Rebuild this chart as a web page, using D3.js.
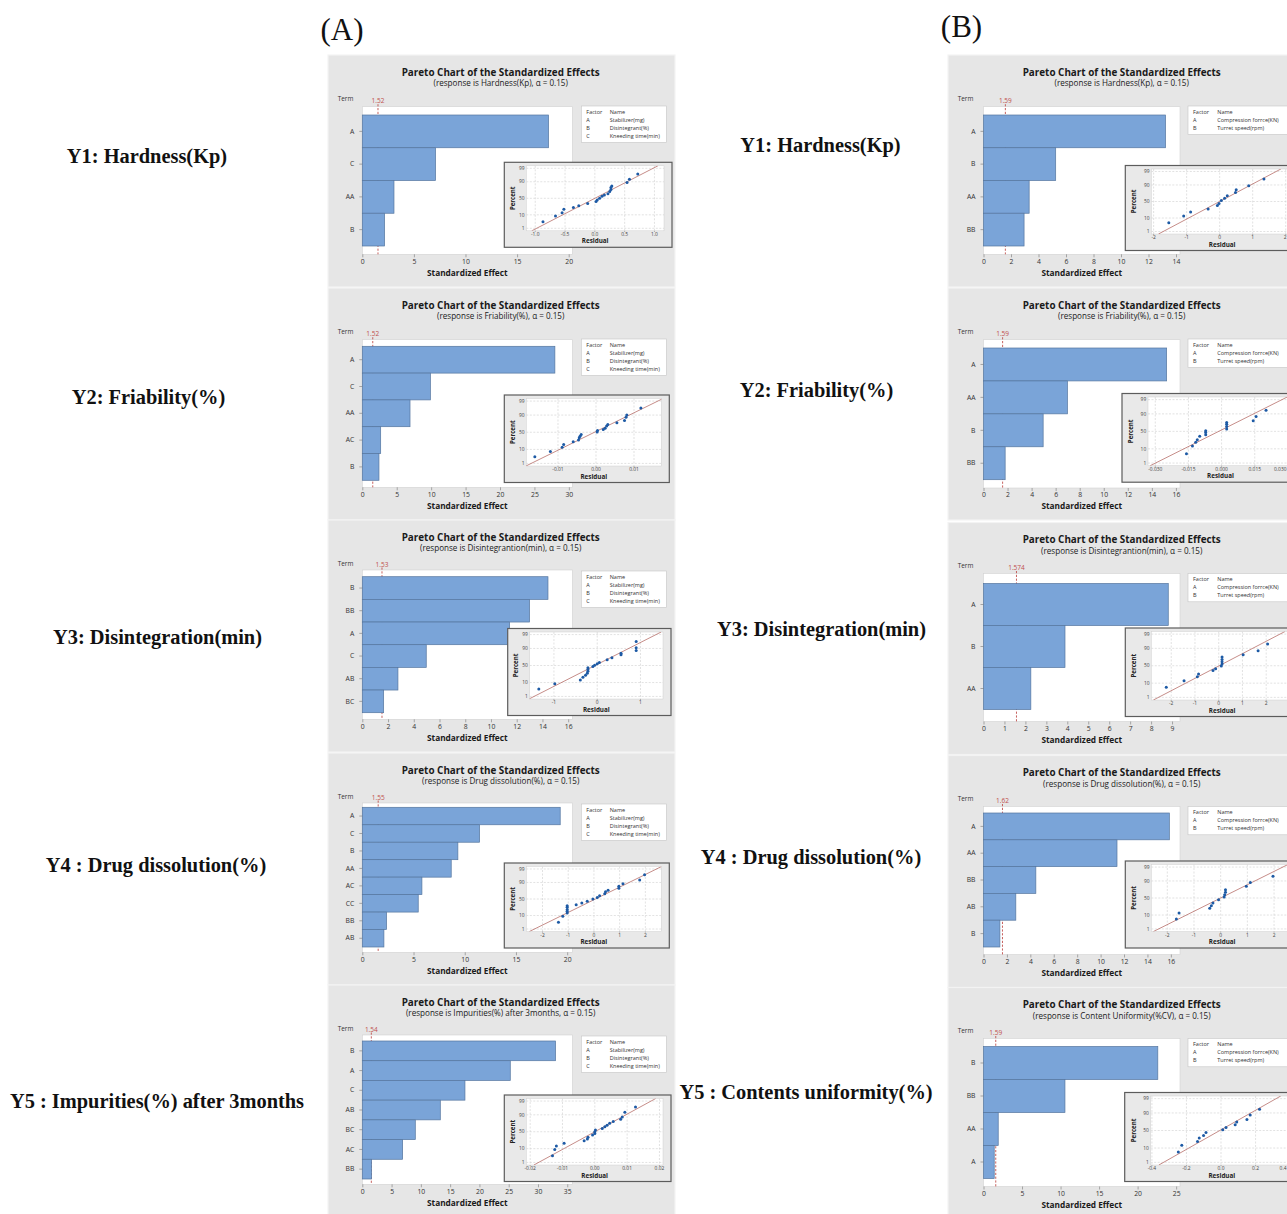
<!DOCTYPE html>
<html><head><meta charset="utf-8">
<script src="https://cdn.jsdelivr.net/npm/d3@7"></script>
<style>body{margin:0;background:#fff}</style>
</head><body>
<svg id="c" width="1287" height="1214"></svg>
<script>
// ---------------- DATA ----------------
const aFactors = ["A", "B", "C"];
const aNames = ["Stabilizer(mg)", "Disintegrant(%)", "Kneeding time(min)"];
const bFactors = ["A", "B"];
const bNames = ["Compression forrce(KN)", "Turret speed(rpm)"];
const pctTicks = [1, 10, 50, 90, 99];

const rowLabelsA = ["Y1: Hardness(Kp)", "Y2: Friability(%)", "Y3: Disintegration(min)", "Y4 : Drug dissolution(%)", "Y5 : Impurities(%) after 3months"];
const rowLabelsB = ["Y1: Hardness(Kp)", "Y2: Friability(%)", "Y3: Disintegration(min)", "Y4 : Drug dissolution(%)", "Y5 : Contents uniformity(%)"];

// A1
const a1Sub = "(response is Hardness(Kp), α = 0.15)";
const a1Terms = ["A", "C", "AA", "B"];
const a1Effects = [18.05, 7.10, 3.07, 2.16];
const a1Ref = 1.52;
const a1XTicks = [0, 5, 10, 15, 20];
const a1Resid = [-0.87, -0.66, -0.55, -0.52, -0.36, -0.27, -0.12, 0.02, 0.04, 0.08, 0.12, 0.16, 0.22, 0.25, 0.27, 0.27, 0.285, 0.54, 0.58, 0.72];
const a1Pct = [3.5, 8.5, 13, 20, 24, 28, 34, 40, 45, 50, 56, 60, 64, 70, 75, 80, 83, 89, 93, 97];
const a1Fit = [0, 0.42];
const a1RTicks = [-1, -0.5, 0, 0.5, 1];

// A2
const a2Sub = "(response is Friability(%), α = 0.15)";
const a2Terms = ["A", "C", "AA", "AC", "B"];
const a2Effects = [27.97, 9.89, 6.93, 2.67, 2.42];
const a2Ref = 1.52;
const a2XTicks = [0, 5, 10, 15, 20, 25, 30];
const a2Resid = [-0.0161, -0.0120, -0.0089, -0.0085, -0.0060, -0.0046, -0.0044, -0.0042, -0.0039, 0.0003, 0.0004, 0.0019, 0.0024, 0.0028, 0.0031, 0.0055, 0.0075, 0.0079, 0.0081, 0.0118];
const a2Pct = [3.4, 7.5, 13, 18, 24, 28, 34, 38, 43, 51, 55, 58, 62, 68, 72, 76, 81, 87, 90, 96.5];
const a2Fit = [-0.0004, 0.00716];
const a2RTicks = [-0.01, 0, 0.01];

// A3
const a3Sub = "(response is Disintegrantion(min), α = 0.15)";
const a3Terms = ["B", "BB", "A", "C", "AB", "BC"];
const a3Effects = [14.43, 13.0, 11.45, 4.97, 2.77, 1.66];
const a3Ref = 1.53;
const a3XTicks = [0, 2, 4, 6, 8, 10, 12, 14, 16];
const a3Resid = [-1.35, -0.98, -0.39, -0.33, -0.27, -0.23, -0.215, -0.215, -0.215, -0.10, -0.06, 0.0, 0.05, 0.23, 0.34, 0.55, 0.55, 0.90, 0.90, 0.90];
const a3Pct = [3.8, 8.4, 13.6, 19, 23, 28, 33, 38, 43, 47, 51, 55, 59, 67, 72, 79, 82, 87, 91, 96.4];
const a3Fit = [-0.05, 0.606];
const a3RTicks = [-1, 0, 1];

// A4
const a4Sub = "(response is Drug dissolution(%), α = 0.15)";
const a4Terms = ["A", "C", "B", "AA", "AC", "CC", "BB", "AB"];
const a4Effects = [19.32, 11.45, 9.33, 8.68, 5.82, 5.46, 2.37, 2.11];
const a4Ref = 1.55;
const a4XTicks = [0, 5, 10, 15, 20];
const a4Resid = [-1.38, -1.21, -1.04, -1.04, -1.04, -1.04, -1.04, -0.69, -0.47, -0.26, -0.04, 0.13, 0.22, 0.42, 0.45, 0.55, 0.97, 0.97, 1.13, 1.78, 1.97];
const a4Pct = [3.5, 9, 14, 17, 21, 26, 30, 33, 38, 43, 50, 55, 60, 66, 71, 75, 80, 84, 88, 93, 97];
const a4Fit = [0.06, 1.02];
const a4RTicks = [-2, -1, 0, 1, 2];

// A5
const a5Sub = "(response is Impurities(%) after 3months, α = 0.15)";
const a5Terms = ["B", "A", "C", "AB", "BC", "AC", "BB"];
const a5Effects = [33.0, 25.27, 17.53, 13.32, 9.05, 6.89, 1.59];
const a5Ref = 1.54;
const a5XTicks = [0, 5, 10, 15, 20, 25, 30, 35];
const a5Resid = [-0.0131, -0.0124, -0.0119, -0.0095, -0.0033, -0.0023, -0.0021, -0.0007, 0.0, 0.0, 0.0002, 0.0023, 0.0031, 0.0038, 0.0046, 0.0057, 0.0080, 0.0085, 0.0093, 0.0126];
const a5Pct = [3.4, 9, 14, 19, 25, 29, 34, 40, 45, 50, 55, 60, 65, 69, 74, 78, 83, 87, 93, 97];
const a5Fit = [0, 0.00748];
const a5RTicks = [-0.02, -0.01, 0, 0.01, 0.02];

// B1
const b1Sub = "(response is Hardness(Kp), α = 0.15)";
const b1Terms = ["A", "B", "AA", "BB"];
const b1Effects = [13.24, 5.25, 3.32, 2.95];
const b1Ref = 1.59;
const b1XTicks = [0, 2, 4, 6, 8, 10, 12, 14];
const b1Resid = [-1.54, -1.09, -0.88, -0.35, -0.07, -0.02, 0.05, 0.15, 0.23, 0.48, 0.50, 0.88, 1.34];
const b1Pct = [5, 13, 21, 28, 38, 44, 53, 60, 67, 76, 82, 89, 96];
const b1Fit = [0, 0.735];
const b1RTicks = [-2, -1, 0, 1, 2];

// B2
const b2Sub = "(response is Friability(%), α = 0.15)";
const b2Terms = ["A", "AA", "B", "BB"];
const b2Effects = [15.23, 6.98, 4.96, 1.80];
const b2Ref = 1.59;
const b2XTicks = [0, 2, 4, 6, 8, 10, 12, 14, 16];
const b2Resid = [-0.0159, -0.0132, -0.0117, -0.0110, -0.0099, -0.0072, -0.0072, -0.0072, 0.0023, 0.0023, 0.0023, 0.0023, 0.0143, 0.0156, 0.0201];
const b2Pct = [5, 14, 21, 27, 36, 40, 47, 52, 57, 64, 70, 74, 78, 86, 94];
const b2Fit = [-0.0013, 0.0123];
const b2RTicks = [-0.03, -0.015, 0, 0.015, 0.03];

// B3
const b3Sub = "(response is Disintegrantion(min), α = 0.15)";
const b3Terms = ["A", "B", "AA"];
const b3Effects = [8.82, 3.89, 2.26];
const b3Ref = 1.574;
const b3XTicks = [0, 1, 2, 3, 4, 5, 6, 7, 8, 9];
const b3Resid = [-2.21, -1.46, -0.90, -0.85, -0.24, -0.13, 0.11, 0.14, 0.14, 0.14, 0.14, 1.03, 1.66, 2.06];
const b3Pct = [5.6, 13.5, 21, 27, 36, 41, 49, 55, 61.5, 68, 74, 79, 86.5, 94.5];
const b3Fit = [0.02, 1.10];
const b3RTicks = [-2, -1, 0, 1, 2];

// B4
const b4Sub = "(response is Drug dissolution(%), α = 0.15)";
const b4Terms = ["A", "AA", "BB", "AB", "B"];
const b4Effects = [15.87, 11.40, 4.47, 2.76, 1.40];
const b4Ref = 1.62;
const b4XTicks = [0, 2, 4, 6, 8, 10, 12, 14, 16];
const b4Resid = [-1.66, -1.56, -0.41, -0.35, -0.29, -0.08, 0.13, 0.15, 0.18, 0.18, 0.96, 1.11, 1.96];
const b4Pct = [5.7, 13, 22, 28, 35, 45, 53, 60, 67, 73, 81, 88, 95];
const b4Fit = [0, 1.0];
const b4RTicks = [-2, -1, 0, 1, 2];

// B5
const b5Sub = "(response is Content Uniformity(%CV), α = 0.15)";
const b5Terms = ["B", "BB", "AA", "A"];
const b5Effects = [22.62, 10.57, 1.91, 1.39];
const b5Ref = 1.59;
const b5XTicks = [0, 5, 10, 15, 20, 25];
const b5Resid = [-0.247, -0.227, -0.136, -0.126, -0.101, -0.087, 0.010, 0.029, 0.082, 0.091, 0.150, 0.169, 0.223];
const b5Pct = [5.8, 14, 21, 29, 36, 44, 52, 59, 66, 73, 79, 87, 94];
const b5Fit = [-0.007, 0.14];
const b5RTicks = [-0.4, -0.2, 0, 0.2, 0.4];

// ---------------- HELPERS ----------------
const SANS = "'Open Sans','Noto Sans',sans-serif";
const SERIF = "'Liberation Serif','Times New Roman',serif";
const loc = d3.formatLocale({decimal: ".", thousands: ",", grouping: [3], currency: ["", ""], minus: "-"});
const VIEW_W = 1287;

function probit(p) {
  const a = [-3.969683028665376e+01, 2.209460984245205e+02, -2.759285104469687e+02, 1.383577518672690e+02, -3.066479806614716e+01, 2.506628277459239e+00];
  const b = [-5.447609879822406e+01, 1.615858368580409e+02, -1.556989798598866e+02, 6.680131188771972e+01, -1.328068155288572e+01];
  const c = [-7.784894002430293e-03, -3.223964580411365e-01, -2.400758296884335e+00, -2.549732539343734e+00, 4.374664141464968e+00, 2.938163982698783e+00];
  const d = [7.784695709041462e-03, 3.224671290700398e-01, 2.445134137142996e+00, 3.754408661907416e+00];
  const pl = 0.02425, ph = 1 - pl;
  let q, r;
  if (p < pl) { q = Math.sqrt(-2 * Math.log(p)); return (((((c[0]*q+c[1])*q+c[2])*q+c[3])*q+c[4])*q+c[5]) / ((((d[0]*q+d[1])*q+d[2])*q+d[3])*q+1); }
  if (p <= ph) { q = p - 0.5; r = q*q; return (((((a[0]*r+a[1])*r+a[2])*r+a[3])*r+a[4])*r+a[5])*q / (((((b[0]*r+b[1])*r+b[2])*r+b[3])*r+b[4])*r+1); }
  q = Math.sqrt(-2 * Math.log(1 - p));
  return -(((((c[0]*q+c[1])*q+c[2])*q+c[3])*q+c[4])*q+c[5]) / ((((d[0]*q+d[1])*q+d[2])*q+d[3])*q+1);
}

// ---------------- PANELS ----------------
const panels = [
  {sub: a1Sub, terms: a1Terms, effects: a1Effects, ref: a1Ref, xTicks: a1XTicks, resid: a1Resid, pct: a1Pct, fit: a1Fit, rTicks: a1RTicks, rFmt: ".1f", factors: aFactors, names: aNames},
  {sub: a2Sub, terms: a2Terms, effects: a2Effects, ref: a2Ref, xTicks: a2XTicks, resid: a2Resid, pct: a2Pct, fit: a2Fit, rTicks: a2RTicks, rFmt: ".2f", factors: aFactors, names: aNames},
  {sub: a3Sub, terms: a3Terms, effects: a3Effects, ref: a3Ref, xTicks: a3XTicks, resid: a3Resid, pct: a3Pct, fit: a3Fit, rTicks: a3RTicks, rFmt: "d", factors: aFactors, names: aNames},
  {sub: a4Sub, terms: a4Terms, effects: a4Effects, ref: a4Ref, xTicks: a4XTicks, resid: a4Resid, pct: a4Pct, fit: a4Fit, rTicks: a4RTicks, rFmt: "d", factors: aFactors, names: aNames},
  {sub: a5Sub, terms: a5Terms, effects: a5Effects, ref: a5Ref, xTicks: a5XTicks, resid: a5Resid, pct: a5Pct, fit: a5Fit, rTicks: a5RTicks, rFmt: ".2f", factors: aFactors, names: aNames},
  {sub: b1Sub, terms: b1Terms, effects: b1Effects, ref: b1Ref, xTicks: b1XTicks, resid: b1Resid, pct: b1Pct, fit: b1Fit, rTicks: b1RTicks, rFmt: "d", factors: bFactors, names: bNames},
  {sub: b2Sub, terms: b2Terms, effects: b2Effects, ref: b2Ref, xTicks: b2XTicks, resid: b2Resid, pct: b2Pct, fit: b2Fit, rTicks: b2RTicks, rFmt: ".3f", factors: bFactors, names: bNames},
  {sub: b3Sub, terms: b3Terms, effects: b3Effects, ref: b3Ref, xTicks: b3XTicks, resid: b3Resid, pct: b3Pct, fit: b3Fit, rTicks: b3RTicks, rFmt: "d", factors: bFactors, names: bNames},
  {sub: b4Sub, terms: b4Terms, effects: b4Effects, ref: b4Ref, xTicks: b4XTicks, resid: b4Resid, pct: b4Pct, fit: b4Fit, rTicks: b4RTicks, rFmt: "d", factors: bFactors, names: bNames},
  {sub: b5Sub, terms: b5Terms, effects: b5Effects, ref: b5Ref, xTicks: b5XTicks, resid: b5Resid, pct: b5Pct, fit: b5Fit, rTicks: b5RTicks, rFmt: ".1f", factors: bFactors, names: bNames}
];

// layout (positions only)
const colA = {px: 328, pw: 347, tx: 172.7, plotX0: 34.3, plotX1: 244.3, lx0: 253.3, lx1: 338.3, nameOff: 23.4, boxLeft: 22, pctOff: 11.8};
const colB = {px: 948, pw: 345, tx: 173.7, plotX0: 35.5, plotX1: 232, lx0: 240, lx1: 352, nameOff: 24.3, boxLeft: 26, pctOff: 15};
const layouts = [
  Object.assign({}, colA, {py: 55,    plotY0: 51.7, plotY1: 199.3, band: [60, 191],     xMax: 20.35, ix: [198.3, 336],   iy: [110.8, 175.8], rDom: [-1.15, 1.16]}),
  Object.assign({}, colA, {py: 288,   plotY0: 51.7, plotY1: 199.3, band: [58.3, 192.3], xMax: 30.5,  ix: [198.3, 333.3], iy: [110.5, 178],   rDom: [-0.01834, 0.01718]}),
  Object.assign({}, colA, {py: 520,   plotY0: 50,   plotY1: 199.3, band: [56.7, 192.7], xMax: 16.32, ix: [201.7, 335],   iy: [112, 179],     rDom: [-1.56, 1.52]}),
  Object.assign({}, colA, {py: 753,   plotY0: 50,   plotY1: 199.3, band: [54.3, 194],   xMax: 20.5,  ix: [198.3, 333.3], iy: [113.5, 178.5], rDom: [-2.63, 2.62]}),
  Object.assign({}, colA, {py: 985,   plotY0: 50,   plotY1: 199.3, band: [56, 194],     xMax: 35.86, ix: [198.3, 335],   iy: [113.5, 180],   rDom: [-0.0212, 0.0211]}),
  Object.assign({}, colB, {py: 55,    plotY0: 51.7, plotY1: 199.3, band: [60, 191],     xMax: 14.29, ix: [203.3, 345],   iy: [114, 179],     rDom: [-2.07, 2.22]}),
  Object.assign({}, colB, {py: 288,   plotY0: 51.7, plotY1: 200,   band: [60, 191.7],   xMax: 16.34, ix: [200, 345],     iy: [109, 177.7],   rDom: [-0.0333, 0.0323]}),
  Object.assign({}, colB, {py: 522.5, plotY0: 51,   plotY1: 199,   band: [61, 187],     xMax: 9.38,  ix: [203.3, 345],   iy: [109, 177.5],   rDom: [-2.84, 3.13]}),
  Object.assign({}, colB, {py: 755.5, plotY0: 51,   plotY1: 199,   band: [57.5, 191.5], xMax: 16.78, ix: [203.3, 345],   iy: [109, 176],     rDom: [-2.6, 2.71]}),
  Object.assign({}, colB, {py: 987.5, plotY0: 51,   plotY1: 199,   band: [59, 191],     xMax: 25.5,  ix: [202.7, 345],   iy: [108.5, 177.5], rDom: [-0.407, 0.4167]})
];

const svg = d3.select("#c");
svg.append("rect").attr("width", 1287).attr("height", 1214).attr("fill", "#fff");

function styleAxis(ax, size) {
  ax.select(".domain").remove();
  ax.selectAll("line").attr("stroke", "#777").attr("stroke-width", 0.6);
  ax.selectAll("text").attr("font-size", size).attr("font-family", SANS).attr("fill", "#333");
}

function drawPanel(p, L, idx) {
  const g = svg.append("g").attr("transform", `translate(${L.px},${L.py})`);
  g.append("rect").attr("x", 0).attr("y", 0).attr("width", L.pw).attr("height", 232)
    .attr("fill", "#e6e6e6").attr("stroke", "#f3f3f3").attr("stroke-width", 1.2);

  g.append("text").attr("x", L.tx).attr("y", 20.8).attr("text-anchor", "middle")
    .attr("font-family", SANS).attr("font-weight", "bold").attr("font-size", 9.9).attr("fill", "#1a1a1a")
    .text("Pareto Chart of the Standardized Effects");
  g.append("text").attr("x", L.tx).attr("y", 31.3).attr("text-anchor", "middle")
    .attr("font-family", SANS).attr("font-size", 8.1).attr("fill", "#1a1a1a").text(p.sub);

  const x = d3.scaleLinear().domain([0, L.xMax]).range([L.plotX0, L.plotX1]);
  const y = d3.scaleBand().domain(p.terms).range(L.band);

  g.append("rect").attr("x", L.plotX0).attr("y", L.plotY0)
    .attr("width", L.plotX1 - L.plotX0).attr("height", L.plotY1 - L.plotY0)
    .attr("fill", "#fff").attr("stroke", "#d2d2d2").attr("stroke-width", 0.6);

  // reference line
  g.append("line").attr("x1", x(p.ref)).attr("x2", x(p.ref))
    .attr("y1", L.plotY0 - 2.5).attr("y2", L.plotY1)
    .attr("stroke", "#c0504d").attr("stroke-width", 0.9).attr("stroke-dasharray", "2.2,1.6");
  g.append("text").attr("x", x(p.ref)).attr("y", L.plotY0 - 3.5).attr("text-anchor", "middle")
    .attr("font-family", SANS).attr("font-size", 6.5).attr("fill", "#c0504d").text(String(p.ref));

  // bars
  const bars = p.terms.map((t, i) => ({t: t, v: p.effects[i]}));
  g.selectAll("rect.bar").data(bars).join("rect").attr("class", "bar")
    .attr("x", x(0)).attr("y", d => y(d.t))
    .attr("width", d => x(d.v) - x(0)).attr("height", y.bandwidth())
    .attr("fill", "#7aa4d8").attr("stroke", "#55769f").attr("stroke-width", 0.7);

  const xa = g.append("g").attr("transform", `translate(0,${L.plotY1})`)
    .call(d3.axisBottom(x).tickValues(p.xTicks).tickSize(3).tickPadding(1.5).tickFormat(d3.format("d")));
  styleAxis(xa, 6.8);
  const ya = g.append("g").attr("transform", `translate(${L.plotX0},0)`)
    .call(d3.axisLeft(y).tickSize(3).tickPadding(5));
  styleAxis(ya, 6.8);

  g.append("text").attr("x", 17.5).attr("y", 45.5).attr("text-anchor", "middle")
    .attr("font-family", SANS).attr("font-size", 6.4).attr("fill", "#333").text("Term");
  g.append("text").attr("x", (L.plotX0 + L.plotX1) / 2).attr("y", 220.5).attr("text-anchor", "middle")
    .attr("font-family", SANS).attr("font-weight", "bold").attr("font-size", 8.3).attr("fill", "#1a1a1a")
    .text("Standardized Effect");

  // legend
  const nRows = p.factors.length + 1;
  g.append("rect").attr("x", L.lx0).attr("y", 51).attr("width", L.lx1 - L.lx0).attr("height", nRows * 8.1 + 4)
    .attr("fill", "#fff").attr("stroke", "#c6c6c6").attr("stroke-width", 0.6);
  const lg = g.append("g").attr("font-family", SANS).attr("font-size", 5.5).attr("fill", "#333");
  lg.append("text").attr("x", L.lx0 + 5).attr("y", 58.6).text("Factor");
  lg.append("text").attr("x", L.lx0 + 5 + L.nameOff).attr("y", 58.6).text("Name");
  p.factors.forEach((f, i) => {
    lg.append("text").attr("x", L.lx0 + 5).attr("y", 58.6 + (i + 1) * 8.1).text(f);
    lg.append("text").attr("x", L.lx0 + 5 + L.nameOff).attr("y", 58.6 + (i + 1) * 8.1).text(p.names[i]);
  });

  // inset normal probability plot
  const [ix0, ix1] = L.ix, [iy0, iy1] = L.iy;
  const xs = d3.scaleLinear().domain(L.rDom).range([ix0, ix1]);
  const ys = d3.scaleLinear().domain([-2.52, 2.52]).range([iy1, iy0]);
  const bx = ix0 - L.boxLeft;
  g.append("rect").attr("x", bx).attr("y", iy0 - 3.5).attr("width", ix1 + 8 - bx).attr("height", iy1 + 16.5 - (iy0 - 3.5))
    .attr("fill", "#e9e9e9").attr("stroke", "#5c5c5c").attr("stroke-width", 1.2);
  g.append("rect").attr("x", ix0).attr("y", iy0).attr("width", ix1 - ix0).attr("height", iy1 - iy0)
    .attr("fill", "#fff").attr("stroke", "#d0d0d0").attr("stroke-width", 0.5);
  const clipId = "clip" + idx;
  g.append("clipPath").attr("id", clipId).append("rect")
    .attr("x", ix0).attr("y", iy0).attr("width", ix1 - ix0).attr("height", iy1 - iy0);
  const ig = g.append("g").attr("clip-path", `url(#${clipId})`);
  p.rTicks.forEach(t => {
    ig.append("line").attr("x1", xs(t)).attr("x2", xs(t)).attr("y1", iy0).attr("y2", iy1)
      .attr("stroke", "#cfcfcf").attr("stroke-width", 0.6).attr("stroke-dasharray", "2,1.5");
  });
  pctTicks.forEach(v => {
    const yy = ys(probit(v / 100));
    ig.append("line").attr("x1", ix0).attr("x2", ix1).attr("y1", yy).attr("y2", yy)
      .attr("stroke", "#cfcfcf").attr("stroke-width", 0.6).attr("stroke-dasharray", "2,1.5");
  });
  const zLo = -2.52, zHi = 2.52;
  ig.append("line")
    .attr("x1", xs(p.fit[0] + p.fit[1] * zLo)).attr("y1", ys(zLo))
    .attr("x2", xs(p.fit[0] + p.fit[1] * zHi)).attr("y2", ys(zHi))
    .attr("stroke", "#b8706b").attr("stroke-width", 0.8);
  const pts = p.resid.map((r, i) => ({r: r, z: probit(p.pct[i] / 100)}));
  ig.selectAll("circle").data(pts).join("circle")
    .attr("cx", d => xs(d.r)).attr("cy", d => ys(d.z)).attr("r", 1.5).attr("fill", "#1d5aa5");

  const fmt = loc.format(p.rFmt);
  const tg = g.append("g").attr("font-family", SANS).attr("font-size", 4.9).attr("fill", "#444");
  const maxX = VIEW_W - L.px - 0.5;
  p.rTicks.forEach(t => {
    const tx = tg.append("text").attr("x", xs(t)).attr("y", iy1 + 5.2).attr("text-anchor", "middle").text(fmt(t));
    const w = tx.node().getComputedTextLength();
    if (xs(t) + w / 2 > maxX) tx.attr("text-anchor", "end").attr("x", maxX);
    g.append("line").attr("x1", xs(t)).attr("x2", xs(t)).attr("y1", iy1).attr("y2", iy1 + 1.2)
      .attr("stroke", "#777").attr("stroke-width", 0.5);
  });
  pctTicks.forEach(v => {
    tg.append("text").attr("x", ix0 - 1.8).attr("y", ys(probit(v / 100)) + 1.7).attr("text-anchor", "end").text(String(v));
  });
  g.append("text").attr("transform", `translate(${ix0 - L.pctOff},${(iy0 + iy1) / 2}) rotate(-90)`)
    .attr("text-anchor", "middle").attr("font-family", SANS).attr("font-weight", "bold")
    .attr("font-size", 6.1).attr("fill", "#222").text("Percent");
  g.append("text").attr("x", (ix0 + ix1) / 2).attr("y", iy1 + 12.5).attr("text-anchor", "middle")
    .attr("font-family", SANS).attr("font-weight", "bold").attr("font-size", 6.3).attr("fill", "#222").text("Residual");
}

panels.forEach((p, i) => drawPanel(p, layouts[i], i));

// column headers and row labels
svg.append("text").attr("x", 342).attr("y", 40).attr("text-anchor", "middle")
  .attr("font-family", SERIF).attr("font-size", 31).attr("fill", "#111").text("(A)");
svg.append("text").attr("x", 961.5).attr("y", 37).attr("text-anchor", "middle")
  .attr("font-family", SERIF).attr("font-size", 31).attr("fill", "#111").text("(B)");

const rowPosA = [[147, 156], [148.5, 397], [157.5, 637], [156, 865], [157, 1101]];
const rowPosB = [[820.5, 145], [816.5, 390], [821.5, 629], [811, 857], [806, 1092]];
rowLabelsA.forEach((t, i) => {
  svg.append("text").attr("x", rowPosA[i][0]).attr("y", rowPosA[i][1] + 6.8).attr("text-anchor", "middle")
    .attr("font-family", SERIF).attr("font-weight", "bold").attr("font-size", 20.4).attr("fill", "#111").text(t);
});
rowLabelsB.forEach((t, i) => {
  svg.append("text").attr("x", rowPosB[i][0]).attr("y", rowPosB[i][1] + 6.8).attr("text-anchor", "middle")
    .attr("font-family", SERIF).attr("font-weight", "bold").attr("font-size", 20.4).attr("fill", "#111").text(t);
});
</script>
</body></html>
